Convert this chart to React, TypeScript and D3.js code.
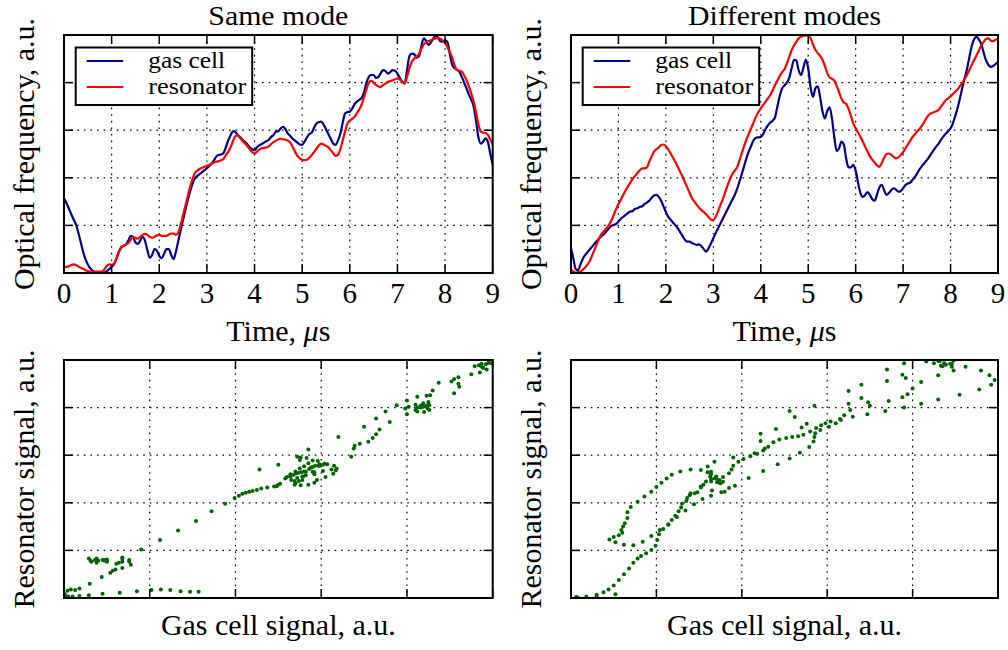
import React from 'react';
import * as d3 from 'd3';

// ---------------- DATA ----------------
// sampling step of the recorded traces, microseconds (0 .. 9 us)
const TIME_STEP = 0.05;
const TIME_TICKS = [0, 1, 2, 3, 4, 5, 6, 7, 8, 9];
const SIGNAL_TICKS = [0, 1, 2, 3, 4, 5];

// "Same mode" – gas cell trace (a.u.)
const sameGas = [
  1.57, 1.47, 1.36, 1.24, 1.13, 1.02, 0.85, 0.65, 0.45, 0.29,
  0.18, 0.10, 0.05, 0.02, 0.01, 0.00, 0.00, 0.01, 0.04, 0.08,
  0.13, 0.18, 0.30, 0.44, 0.54, 0.57, 0.60, 0.68, 0.78, 0.76,
  0.64, 0.61, 0.68, 0.76, 0.68, 0.48, 0.32, 0.38, 0.50, 0.47,
  0.36, 0.31, 0.40, 0.50, 0.50, 0.38, 0.29, 0.45, 0.68, 0.90,
  1.12, 1.33, 1.54, 1.72, 1.88, 1.99, 2.04, 2.08, 2.12, 2.16,
  2.20, 2.25, 2.30, 2.37, 2.45, 2.48, 2.49, 2.52, 2.65, 2.79,
  2.90, 2.98, 2.96, 2.90, 2.85, 2.80, 2.75, 2.70, 2.64, 2.60,
  2.58, 2.64, 2.68, 2.71, 2.74, 2.77, 2.80, 2.86, 2.90, 2.97,
  2.98, 3.04, 3.07, 3.02, 2.93, 2.88, 2.82, 2.78, 2.74, 2.70,
  2.69, 2.76, 2.85, 2.92, 2.95, 3.05, 3.14, 3.17, 3.18, 3.12,
  3.02, 2.92, 2.82, 2.72, 2.69, 2.78, 2.92, 3.15, 3.35, 3.38,
  3.39, 3.45, 3.55, 3.60, 3.64, 3.68, 3.80, 4.00, 4.12, 4.16,
  4.16, 4.10, 4.12, 4.20, 4.26, 4.24, 4.19, 4.22, 4.26, 4.25,
  4.19, 4.10, 4.02, 3.98, 4.25, 4.55, 4.61, 4.60, 4.52, 4.55,
  4.75, 4.93, 4.88, 4.79, 4.84, 4.92, 4.98, 4.95, 4.87, 4.86,
  4.89, 4.85, 4.60, 4.37, 4.30, 4.27, 4.23, 4.12, 4.00, 3.88,
  3.75, 3.64, 3.50, 3.20, 2.85, 2.72, 2.76, 2.83, 2.75, 2.50,
  2.28,
];

// "Same mode" – resonator trace (a.u.)
const sameRes = [
  0.13, 0.13, 0.14, 0.17, 0.18, 0.17, 0.14, 0.11, 0.09, 0.06,
  0.04, 0.03, 0.03, 0.03, 0.03, 0.03, 0.03, 0.08, 0.15, 0.18,
  0.17, 0.20, 0.30, 0.44, 0.53, 0.57, 0.60, 0.63, 0.70, 0.76,
  0.74, 0.72, 0.76, 0.80, 0.82, 0.80, 0.76, 0.74, 0.76, 0.79,
  0.80, 0.78, 0.78, 0.78, 0.81, 0.83, 0.83, 0.80, 0.85, 1.02,
  1.22, 1.42, 1.62, 1.82, 1.98, 2.10, 2.15, 2.19, 2.21, 2.23,
  2.25, 2.27, 2.30, 2.32, 2.34, 2.35, 2.37, 2.40, 2.48, 2.55,
  2.65, 2.78, 2.88, 2.89, 2.83, 2.77, 2.72, 2.66, 2.60, 2.54,
  2.51, 2.55, 2.59, 2.62, 2.63, 2.64, 2.66, 2.71, 2.75, 2.78,
  2.81, 2.82, 2.81, 2.80, 2.78, 2.74, 2.65, 2.55, 2.46, 2.41,
  2.38, 2.37, 2.38, 2.42, 2.48, 2.54, 2.61, 2.68, 2.72, 2.70,
  2.67, 2.64, 2.58, 2.52, 2.46, 2.48, 2.60, 2.78, 2.97, 3.14,
  3.20, 3.24, 3.28, 3.36, 3.44, 3.54, 3.70, 3.86, 4.00, 4.04,
  4.00, 3.95, 3.92, 3.91, 3.95, 3.98, 4.02, 4.03, 4.05, 4.07,
  4.09, 4.06, 4.02, 3.98, 4.12, 4.30, 4.44, 4.50, 4.55, 4.60,
  4.70, 4.80, 4.85, 4.87, 4.89, 4.91, 4.93, 4.94, 4.92, 4.88,
  4.83, 4.74, 4.64, 4.52, 4.36, 4.26, 4.25, 4.23, 4.15, 4.05,
  3.92, 3.77, 3.60, 3.38, 3.12, 2.97, 2.95, 2.94, 2.90, 2.80,
  2.70,
];

// "Different modes" – gas cell trace (a.u.)
const diffGas = [
  0.52, 0.30, 0.08, 0.06, 0.18, 0.30, 0.38, 0.44, 0.50, 0.56,
  0.62, 0.68, 0.73, 0.78, 0.82, 0.88, 0.94, 0.99, 1.01, 1.03,
  1.08, 1.14, 1.18, 1.22, 1.26, 1.29, 1.30, 1.35, 1.36, 1.39,
  1.40, 1.45, 1.48, 1.52, 1.58, 1.63, 1.64, 1.60, 1.52, 1.40,
  1.28, 1.18, 1.12, 1.06, 1.00, 0.94, 0.86, 0.78, 0.70, 0.66,
  0.66, 0.63, 0.61, 0.59, 0.60, 0.56, 0.50, 0.45, 0.52, 0.62,
  0.73, 0.84, 0.94, 1.04, 1.14, 1.24, 1.34, 1.44, 1.54, 1.64,
  1.76, 1.92, 2.08, 2.25, 2.42, 2.56, 2.68, 2.79, 2.84, 2.85,
  2.86, 2.92, 3.02, 3.10, 3.16, 3.20, 3.27, 3.50, 3.72, 3.88,
  3.94, 4.00, 4.10, 4.30, 4.48, 4.46, 4.25, 4.16, 4.32, 4.48,
  4.30, 3.90, 3.70, 3.88, 3.92, 3.70, 3.40, 3.25, 3.40, 3.48,
  3.25, 2.85, 2.56, 2.62, 2.76, 2.70, 2.40, 2.22, 2.22, 2.27,
  2.15, 1.90, 1.68, 1.60, 1.64, 1.70, 1.64, 1.55, 1.52, 1.65,
  1.80, 1.85, 1.74, 1.64, 1.68, 1.74, 1.78, 1.75, 1.71, 1.72,
  1.78, 1.85, 1.88, 1.90, 1.96, 2.02, 2.10, 2.18, 2.25, 2.31,
  2.37, 2.44, 2.52, 2.59, 2.66, 2.72, 2.80, 2.87, 2.93, 2.98,
  3.04, 3.15, 3.30, 3.47, 3.68, 3.90, 4.10, 4.30, 4.55, 4.78,
  4.92, 4.96, 4.90, 4.80, 4.62, 4.46, 4.37, 4.33, 4.35, 4.39,
  4.44,
];

// "Different modes" – resonator trace (a.u.)
const diffRes = [
  0.08, 0.03, 0.01, 0.02, 0.03, 0.07, 0.12, 0.18, 0.26, 0.38,
  0.50, 0.62, 0.74, 0.83, 0.88, 0.94, 1.01, 1.10, 1.22, 1.34,
  1.45, 1.54, 1.64, 1.73, 1.82, 1.90, 1.98, 2.04, 2.10, 2.16,
  2.20, 2.20, 2.22, 2.34, 2.45, 2.55, 2.60, 2.64, 2.69, 2.70,
  2.66, 2.59, 2.51, 2.42, 2.33, 2.23, 2.13, 2.02, 1.91, 1.80,
  1.68, 1.57, 1.50, 1.43, 1.37, 1.32, 1.28, 1.23, 1.17, 1.12,
  1.11, 1.18, 1.30, 1.43, 1.55, 1.70, 1.84, 1.97, 2.08, 2.15,
  2.22, 2.36, 2.52, 2.67, 2.81, 2.93, 3.05, 3.17, 3.29, 3.38,
  3.46, 3.53, 3.60, 3.67, 3.74, 3.84, 3.95, 4.04, 4.14, 4.22,
  4.28, 4.40, 4.54, 4.68, 4.78, 4.86, 4.93, 4.97, 4.98, 4.99,
  4.98, 4.93, 4.80, 4.69, 4.62, 4.56, 4.48, 4.35, 4.20, 4.11,
  4.08, 4.04, 3.93, 3.80, 3.66, 3.58, 3.55, 3.45, 3.30, 3.14,
  3.04, 2.95, 2.86, 2.76, 2.65, 2.55, 2.45, 2.38, 2.32, 2.26,
  2.23, 2.31, 2.42, 2.50, 2.51, 2.48, 2.44, 2.41, 2.43, 2.48,
  2.54, 2.62, 2.70, 2.78, 2.86, 2.92, 2.98, 3.03, 3.10, 3.18,
  3.27, 3.33, 3.36, 3.38, 3.40, 3.43, 3.50, 3.57, 3.63, 3.67,
  3.71, 3.76, 3.81, 3.86, 3.93, 4.00, 4.08, 4.17, 4.27, 4.38,
  4.48, 4.58, 4.68, 4.78, 4.86, 4.92, 4.93, 4.88, 4.87, 4.90,
  4.92,
];

const TITLES = ['Same mode', 'Different modes'];
const SERIES_NAMES = ['gas cell', 'resonator'];

// ---------------- STYLE ----------------
const W = 1008;
const H = 650;
const FONT = '"Liberation Serif", "Times New Roman", serif';
const BLUE = '#00008b';
const RED = '#ff0000';
const GREEN = '#006400';
const TITLE_WIDTHS = [140, 193];
const LEGEND_WIDTHS = [77, 98];

const COLS = [
  { left: 64, right: 492.7 },
  { left: 571, right: 998 },
];
const ROWS = [
  { top: 35, bottom: 273 },
  { top: 360, bottom: 598 },
];

type Box = { left: number; right: number; top: number; bottom: number };

function Axes({ box, xTicks, yTicks, xs, ys, id, children }: any) {
  const TL = 9;
  return (
    <g>
      <defs>
        <clipPath id={id}>
          <rect x={box.left} y={box.top} width={box.right - box.left} height={box.bottom - box.top} />
        </clipPath>
      </defs>
      {xTicks.slice(1, -1).map((t: number) => (
        <line key={'gx' + t} x1={xs(t)} x2={xs(t)} y1={box.top} y2={box.bottom}
          stroke="#000" strokeWidth={1.2} strokeDasharray="1.6,5" />
      ))}
      {yTicks.slice(1, -1).map((t: number) => (
        <line key={'gy' + t} y1={ys(t)} y2={ys(t)} x1={box.left} x2={box.right}
          stroke="#000" strokeWidth={1.2} strokeDasharray="1.6,5" />
      ))}
      <g clipPath={`url(#${id})`}>{children}</g>
      {xTicks.map((t: number) => (
        <g key={'tx' + t}>
          <line x1={xs(t)} x2={xs(t)} y1={box.bottom} y2={box.bottom - TL} stroke="#000" strokeWidth={1.5} />
          <line x1={xs(t)} x2={xs(t)} y1={box.top} y2={box.top + TL} stroke="#000" strokeWidth={1.5} />
        </g>
      ))}
      {yTicks.map((t: number) => (
        <g key={'ty' + t}>
          <line y1={ys(t)} y2={ys(t)} x1={box.left} x2={box.left + TL} stroke="#000" strokeWidth={1.5} />
          <line y1={ys(t)} y2={ys(t)} x1={box.right} x2={box.right - TL} stroke="#000" strokeWidth={1.5} />
        </g>
      ))}
      <rect x={box.left} y={box.top} width={box.right - box.left} height={box.bottom - box.top}
        fill="none" stroke="#000" strokeWidth={2} />
    </g>
  );
}

function LinePanel({ col, gas, res, id }: any) {
  const box: Box = { ...COLS[col], ...ROWS[0] };
  const times = gas.map((_: number, i: number) => i * TIME_STEP);
  const xs = d3.scaleLinear().domain([0, 9]).range([box.left, box.right]);
  const ys = d3.scaleLinear().domain([0, 5]).range([box.bottom, box.top]);
  const line = d3.line<number>()
    .x((_, i) => xs(times[i]))
    .y((d) => ys(d))
    .curve(d3.curveMonotoneX);
  const cx = (box.left + box.right) / 2;
  const lx = box.left + 11.7;
  return (
    <g>
      <text x={cx} y={25} textAnchor="middle" fontSize={28} fontFamily={FONT}
        textLength={TITLE_WIDTHS[col]} lengthAdjust="spacingAndGlyphs">{TITLES[col]}</text>
      <Axes box={box} xTicks={TIME_TICKS} yTicks={SIGNAL_TICKS} xs={xs} ys={ys} id={id}>
        <path d={line(gas) || ''} fill="none" stroke={BLUE} strokeWidth={2.2} strokeLinejoin="round" />
        <path d={line(res) || ''} fill="none" stroke={RED} strokeWidth={2.2} strokeLinejoin="round" />
      </Axes>
      {TIME_TICKS.map((t) => (
        <text key={t} x={xs(t)} y={303} textAnchor="middle" fontSize={29} fontFamily={FONT}>{t}</text>
      ))}
      <text x={cx} y={341} textAnchor="middle" fontSize={30} fontFamily={FONT}>
        <tspan>Time, </tspan><tspan fontStyle="italic">μ</tspan><tspan>s</tspan>
      </text>
      <text transform={`translate(${box.left - 30.5},${(box.top + box.bottom) / 2}) rotate(-90)`}
        textAnchor="middle" fontSize={30} fontFamily={FONT}>Optical frequency, a.u.</text>
      <rect x={lx} y={47.5} width={176.5} height={57.5} fill="#fff" stroke="#000" strokeWidth={2} />
      {[BLUE, RED].map((c, i) => (
        <g key={c}>
          <line x1={lx + 11} x2={lx + 47.5} y1={61 + i * 26} y2={61 + i * 26} stroke={c} strokeWidth={2.2} />
          <text x={lx + 72.5} y={68 + i * 26} fontSize={23.5} fontFamily={FONT}
            textLength={LEGEND_WIDTHS[i]} lengthAdjust="spacingAndGlyphs">{SERIES_NAMES[i]}</text>
        </g>
      ))}
    </g>
  );
}

function ScatterPanel({ col, gas, res, id }: any) {
  const box: Box = { ...COLS[col], ...ROWS[1] };
  const xs = d3.scaleLinear().domain([0, 5]).range([box.left, box.right]);
  const ys = d3.scaleLinear().domain([0, 5]).range([box.bottom, box.top]);
  const cx = (box.left + box.right) / 2;
  return (
    <g>
      <Axes box={box} xTicks={SIGNAL_TICKS} yTicks={SIGNAL_TICKS} xs={xs} ys={ys} id={id}>
        {gas.map((g: number, i: number) => (
          <circle key={i} cx={xs(g)} cy={ys(res[i])} r={2} fill={GREEN} />
        ))}
      </Axes>
      <text x={cx} y={635} textAnchor="middle" fontSize={30} fontFamily={FONT}>Gas cell signal, a.u.</text>
      <text transform={`translate(${box.left - 30.5},${(box.top + box.bottom) / 2}) rotate(-90)`}
        textAnchor="middle" fontSize={30} fontFamily={FONT}>Resonator signal, a.u.</text>
    </g>
  );
}

export default function App() {
  return (
    <svg width={W} height={H} viewBox={`0 0 ${W} ${H}`}
      style={{ position: 'absolute', left: 0, top: 0, background: '#fff' }}>
      <rect width={W} height={H} fill="#fff" />
      <LinePanel col={0} gas={sameGas} res={sameRes} id="c0" />
      <LinePanel col={1} gas={diffGas} res={diffRes} id="c1" />
      <ScatterPanel col={0} gas={sameGas} res={sameRes} id="c2" />
      <ScatterPanel col={1} gas={diffGas} res={diffRes} id="c3" />
    </svg>
  );
}
